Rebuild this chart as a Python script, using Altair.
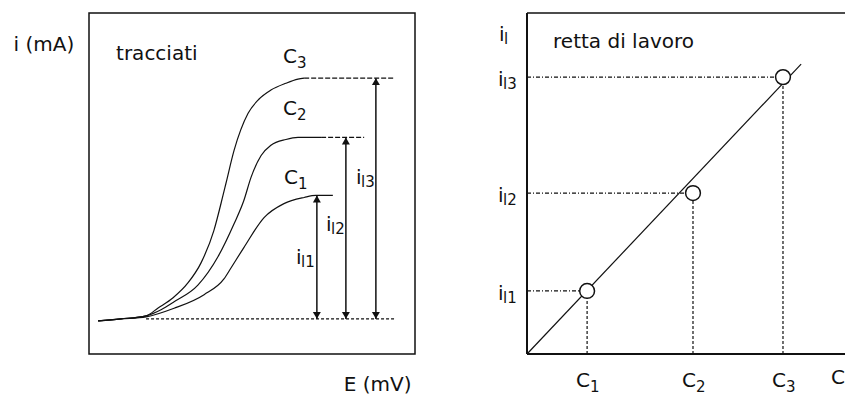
import altair as alt
import pandas as pd

FONT = "DejaVu Sans"
INK = "#111111"

# ---------------- left panel: polarographic waves ----------------
# potential E and current i (arbitrary units 0-100 on both axes)
E_C1 = [2.8, 9.8, 17.5, 26.1, 35.3, 41.4, 43.6, 47.5, 53.7, 59.8, 66.0, 69.6, 74.8]
I_C1 = [9.7, 10.3, 10.9, 13.4, 17.4, 22.0, 25.3, 31.2, 40.0, 44.1, 45.9, 46.5, 46.5]
E_C2 = [2.8, 9.8, 17.5, 22.1, 26.1, 33.4, 39.6, 44.5, 47.5, 49.7, 52.8, 55.8, 60.4, 64.1, 71.2]
I_C2 = [9.7, 10.3, 11.2, 13.0, 15.3, 20.2, 28.6, 38.2, 45.0, 51.8, 58.2, 61.2, 62.9, 63.5, 63.5]
E_C3 = [2.8, 9.8, 17.5, 21.2, 25.8, 30.4, 34.4, 38.3, 41.1, 42.0, 44.5, 48.8, 52.1, 55.8,
        60.4, 64.1, 66.0]
I_C3 = [9.7, 10.3, 11.2, 13.5, 16.5, 20.9, 26.8, 36.2, 46.5, 50.0, 59.7, 70.6, 74.7, 77.4,
        79.4, 80.6, 80.9]

CURVE_NAMES = ["C1", "C2", "C3"]
I_BASE = 10.3                      # residual current level
I_LIMIT = [46.5, 63.5, 80.9]       # limiting currents i_l1, i_l2, i_l3
E_ARROW = [69.9, 78.8, 88.0]       # where each limiting current is measured
EXT_FROM = [71.2, 66.0]            # dashed plateau extensions (C2, C3)
EXT_TO = [84.4, 93.6]
EXT_LEVEL = [63.5, 80.9]
BASE_FROM, BASE_TO = 17.5, 93.6

CURVE_LABEL_E = [59.8, 59.5, 59.5]
CURVE_LABEL_I = [50.0, 70.0, 85.3]
SUBS = ["1", "2", "3"]
IL_SUBS = ["l1", "l2", "l3"]
IL_LABEL_E = [63.5, 72.7, 81.9]
IL_LABEL_I = [26.5, 36.2, 50.0]
PANEL_L_TITLE = "tracciati"
PANEL_L_TITLE_POS = (8.3, 86.2)

# ---------------- right panel: calibration line ----------------
C_VALS = [1.89, 5.22, 8.05]        # concentrations C1, C2, C3
IL_VALS = [1.85, 4.72, 8.12]       # measured limiting currents
LINE_C = [0.0, 8.62]
LINE_I = [0.0, 8.50]
PANEL_R_TITLE = "retta di lavoro"
PANEL_R_TITLE_POS = (0.82, 8.97)

# ---------------- tables ----------------
rows = []
for name, es, is_ in zip(CURVE_NAMES, [E_C1, E_C2, E_C3], [I_C1, I_C2, I_C3]):
    for k, (e, i) in enumerate(zip(es, is_)):
        rows.append({"curve": name, "k": k, "E": e, "i": i})
curves = pd.DataFrame(rows)

arrows = pd.DataFrame({"E": E_ARROW, "top": I_LIMIT, "bottom": [I_BASE] * 3})
ext = pd.DataFrame({"E": EXT_FROM, "E2": EXT_TO, "i": EXT_LEVEL})
base = pd.DataFrame({"E": [BASE_FROM], "E2": [BASE_TO], "i": [I_BASE]})
curve_lbl = pd.DataFrame({"E": CURVE_LABEL_E, "i": CURVE_LABEL_I, "main": ["C"] * 3, "sub": SUBS})
il_lbl = pd.DataFrame({"E": IL_LABEL_E, "i": IL_LABEL_I, "main": ["i"] * 3, "sub": IL_SUBS})
title_l = pd.DataFrame({"E": [PANEL_L_TITLE_POS[0]], "i": [PANEL_L_TITLE_POS[1]], "t": [PANEL_L_TITLE]})

pts = pd.DataFrame({"c": C_VALS, "i": IL_VALS, "zero": [0.0] * 3,
                    "sub": ["1", "2", "3"], "isub": IL_SUBS})
work = pd.DataFrame({"c": LINE_C, "i": LINE_I})
frame_v = pd.DataFrame({"c": [0.0]})
frame_h = pd.DataFrame({"i": [0.0]})
frame_top = pd.DataFrame({"i": [10.0]})
title_r = pd.DataFrame({"c": [PANEL_R_TITLE_POS[0]], "i": [PANEL_R_TITLE_POS[1]], "t": [PANEL_R_TITLE]})
corner = pd.DataFrame({"c": [0.0], "i": [10.0], "end": [10.0], "zero": [0.0]})

# ---------------- left chart ----------------
xs_l = alt.Scale(domain=[0, 100], nice=False, zero=False)
ys_l = alt.Scale(domain=[0, 100], nice=False, zero=False)
ax_x_l = alt.Axis(title="E (mV)", domain=False, ticks=False, labels=False, grid=False,
                  titleX=322, titleY=36, titleAlign="right", titleBaseline="alphabetic",
                  titleFont=FONT, titleFontSize=20, titleFontWeight="normal", titleColor=INK)
ax_y_l = alt.Axis(title="i (mA)", domain=False, ticks=False, labels=False, grid=False,
                  titleAngle=0, titleX=-76, titleY=37, titleAlign="left",
                  titleBaseline="alphabetic", titleFont=FONT, titleFontSize=20,
                  titleFontWeight="normal", titleColor=INK)


def lx(f):
    return alt.X(f"{f}:Q", scale=xs_l, axis=ax_x_l)


def ly(f):
    return alt.Y(f"{f}:Q", scale=ys_l, axis=ax_y_l)


waves = alt.Chart(curves).mark_line(color=INK, strokeWidth=1.2, interpolate="monotone").encode(
    x=lx("E"), y=ly("i"), detail="curve:N", order="k:Q")
plateau_ext = alt.Chart(ext).mark_rule(color=INK, strokeWidth=1.2, strokeDash=[5, 2]).encode(
    x=lx("E"), x2="E2:Q", y=ly("i"))
baseline = alt.Chart(base).mark_rule(color=INK, strokeWidth=1.2, strokeDash=[3, 2]).encode(
    x=lx("E"), x2="E2:Q", y=ly("i"))
shafts = alt.Chart(arrows).mark_rule(color=INK, strokeWidth=1.5).encode(
    x=lx("E"), y=ly("top"), y2="bottom:Q")
heads_up = alt.Chart(arrows).mark_point(shape="triangle-up", filled=True, size=64, opacity=1,
                                        color=INK, yOffset=3.5).encode(x=lx("E"), y=ly("top"))
heads_dn = alt.Chart(arrows).mark_point(shape="triangle-down", filled=True, size=64, opacity=1,
                                        color=INK, yOffset=-3.5).encode(x=lx("E"), y=ly("bottom"))
txt = dict(font=FONT, color=INK, align="left", baseline="alphabetic")
c_main = alt.Chart(curve_lbl).mark_text(fontSize=20, **txt).encode(x=lx("E"), y=ly("i"), text="main:N")
c_sub = alt.Chart(curve_lbl).mark_text(fontSize=15, dx=14, dy=5, **txt).encode(
    x=lx("E"), y=ly("i"), text="sub:N")
il_main = alt.Chart(il_lbl).mark_text(fontSize=20, **txt).encode(x=lx("E"), y=ly("i"), text="main:N")
il_sub = alt.Chart(il_lbl).mark_text(fontSize=15, dx=5, dy=3, **txt).encode(
    x=lx("E"), y=ly("i"), text="sub:N")
ttl_l = alt.Chart(title_l).mark_text(fontSize=20, **txt).encode(x=lx("E"), y=ly("i"), text="t:N")

left = alt.layer(baseline, plateau_ext, waves, shafts, heads_up, heads_dn,
                 c_main, c_sub, il_main, il_sub, ttl_l).properties(
    width=326, height=341,
    view=alt.ViewBackground(stroke=INK, strokeWidth=1.5, fill="white"))

# ---------------- right chart ----------------
xs_r = alt.Scale(domain=[0, 10], nice=False, zero=False)
ys_r = alt.Scale(domain=[0, 10], nice=False, zero=False)


def rx(f):
    return alt.X(f"{f}:Q", scale=xs_r, axis=None)


def ry(f):
    return alt.Y(f"{f}:Q", scale=ys_r, axis=None)


axis_v = alt.Chart(frame_v).mark_rule(color=INK, strokeWidth=2).encode(x=rx("c"))
axis_h = alt.Chart(frame_h).mark_rule(color=INK, strokeWidth=2).encode(y=ry("i"))
top_edge = alt.Chart(frame_top).mark_rule(color=INK, strokeWidth=1.5).encode(y=ry("i"))
guide_h = alt.Chart(pts).mark_rule(color=INK, strokeWidth=1.2, strokeDash=[4, 2, 1, 2]).encode(
    x=rx("zero"), x2="c:Q", y=ry("i"))
guide_v = alt.Chart(pts).mark_rule(color=INK, strokeWidth=1.2, strokeDash=[3, 2]).encode(
    x=rx("c"), y=ry("zero"), y2="i:Q")
work_line = alt.Chart(work).mark_line(color=INK, strokeWidth=1.2).encode(x=rx("c"), y=ry("i"))
circles = alt.Chart(pts).mark_circle(size=220, fill="white", stroke=INK, strokeWidth=1.5,
                                     opacity=1).encode(x=rx("c"), y=ry("i"))
xl_main = alt.Chart(pts).mark_text(fontSize=20, dx=-11, dy=33, **txt).encode(
    x=rx("c"), y=ry("zero"), text=alt.value("C"))
xl_sub = alt.Chart(pts).mark_text(fontSize=15, dx=3, dy=38, **txt).encode(
    x=rx("c"), y=ry("zero"), text="sub:N")
yl_main = alt.Chart(pts).mark_text(fontSize=20, dx=-29, dy=9, **txt).encode(
    x=rx("zero"), y=ry("i"), text=alt.value("i"))
yl_sub = alt.Chart(pts).mark_text(fontSize=15, dx=-24, dy=12, **txt).encode(
    x=rx("zero"), y=ry("i"), text="isub:N")
y_title = alt.Chart(corner).mark_text(fontSize=20, dx=-28, dy=28, **txt).encode(
    x=rx("c"), y=ry("i"), text=alt.value("i"))
y_title_sub = alt.Chart(corner).mark_text(fontSize=15, dx=-23, dy=31, **txt).encode(
    x=rx("c"), y=ry("i"), text=alt.value("l"))
x_title = alt.Chart(corner).mark_text(fontSize=20, dy=30, font=FONT, color=INK, align="right",
                                      baseline="alphabetic").encode(
    x=rx("end"), y=ry("zero"), text=alt.value("C"))
ttl_r = alt.Chart(title_r).mark_text(fontSize=20, **txt).encode(x=rx("c"), y=ry("i"), text="t:N")

right = alt.layer(top_edge, guide_h, guide_v, work_line, circles, axis_v, axis_h,
                  xl_main, xl_sub, yl_main, yl_sub, y_title, y_title_sub, x_title, ttl_r).properties(
    width=318, height=341,
    view=alt.ViewBackground(strokeOpacity=0, fill="white"))

chart = alt.hconcat(left, right, spacing=112, bounds="flush").properties(
    padding={"left": 12, "top": 12, "right": 0, "bottom": 0},
    background="white")

chart.save("out.html", embed_options={"renderer": "svg", "actions": False})
